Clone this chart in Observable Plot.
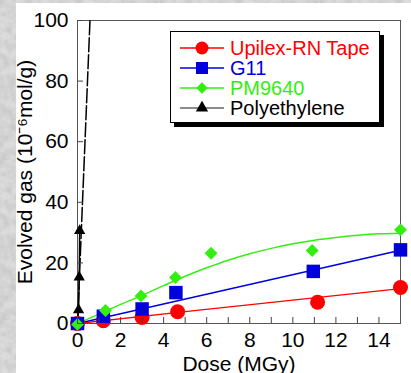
<!DOCTYPE html>
<html>
<head>
<meta charset="utf-8">
<script src="https://cdn.jsdelivr.net/npm/d3@7"></script>
<script src="https://cdn.jsdelivr.net/npm/@observablehq/plot@0.6"></script>
<style>
  html, body { margin: 0; padding: 0; }
  body {
    width: 411px; height: 373px; overflow: hidden; position: relative;
    background-color: #dcdcdc;
    background-image: url("data:image/svg+xml;utf8,<svg xmlns='http://www.w3.org/2000/svg' width='160' height='160'><filter id='n'><feTurbulence type='fractalNoise' baseFrequency='0.12' numOctaves='3' seed='4'/><feColorMatrix values='0 0 0 0 0.45  0 0 0 0 0.45  0 0 0 0 0.45  0.9 0 0 0 -0.25'/></filter><rect width='100%' height='100%' filter='url(%23n)'/></svg>");
    font-family: "Liberation Sans", Arial, sans-serif;
  }
  #paper { position: absolute; left: 16px; top: 3px; right: 0; bottom: 0; background: #fff; }
  #chart { position: absolute; left: 0; top: 0; }
  #legend {
    position: absolute; left: 170px; top: 31px; width: 210px; height: 92px;
    border: 1.5px solid #000; box-shadow: 4px 4px 0 #000; background: #fff;
    font-size: 20px; box-sizing: border-box; padding-top: 6px;
  }
  .row { height: 20px; display: flex; align-items: center; }
  .row svg { flex: none; }
  .row span { margin-left: 6px; line-height: 20px; white-space: nowrap; }
</style>
</head>
<body>
<div id="paper"></div>
<div id="chart"></div>
<div id="legend"></div>
<script>
// ---- data ----
const seriesNames = ["Upilex-RN Tape", "G11", "PM9640", "Polyethylene"];
const seriesColors = ["#ff0000", "#0000dd", "#33ee11", "#000000"];
const seriesSymbols = ["circle", "square", "diamond2", "triangle"];

const upilexDose = [0, 1.2, 3, 4.65, 11.15, 15];
const upilexGas  = [0, 0.9, 2, 3.9, 7, 11.9];
const g11Dose = [0, 1.2, 3, 4.57, 10.95, 15];
const g11Gas  = [0, 2.4, 4.8, 10.2, 17.2, 24.3];
const pmDose = [0, 1.3, 2.95, 4.55, 6.2, 10.9, 15];
const pmGas  = [-0.3, 4.3, 9.1, 15.2, 23.2, 24.1, 30.9];
const peDose = [0.05, 0.08, 0.1];
const peGas  = [4.5, 15.3, 30.6];

// fitted curves as drawn in the reference
const upilexFitDose = [0, 5, 10, 15];
const upilexFitGas  = [0, 3.9, 7.7, 11.5];
const g11FitDose = [0, 15];
const g11FitGas  = [0, 24.2];
const pmFitDose = [0, 1, 2, 3, 4, 5, 6, 7, 8, 9, 10, 11, 12, 13, 14, 15];
const pmFitGas  = [0, 3.1, 6.3, 9.3, 12.5, 15.6, 18.4, 20.9, 23.0, 24.8, 26.3, 27.5, 28.4, 29.1, 29.6, 29.8];
const peFitDose = [0, 0.58];
const peFitGas  = [0, 100];

const xTicks = [0,1,2,3,4,5,6,7,8,9,10,11,12,13,14];
const yTicks = [0, 20, 40, 60, 80, 100];

const pts = (xs, ys) => xs.map((x, i) => ({x, y: ys[i]}));

const series = [
  {fit: pts(upilexFitDose, upilexFitGas), data: pts(upilexDose, upilexGas), r: 7.5, fitW: 1.3},
  {fit: pts(g11FitDose, g11FitGas), data: pts(g11Dose, g11Gas), r: 7.6, fitW: 1.5},
  {fit: pts(pmFitDose, pmFitGas), data: pts(pmDose, pmGas), r: 5.8, fitW: 1.5},
  {fit: pts(peFitDose, peFitGas), data: pts(peDose, peGas), r: 4.2, fitW: 1.5}
];

const marks = [
  Plot.frame({stroke: "#555", strokeWidth: 1})
];
// polyethylene solid connecting line + dashed fit
marks.push(Plot.line([{x: 0, y: 0}, ...series[3].data], {x: "x", y: "y", stroke: "#000", strokeWidth: 1.5}));
marks.push(Plot.line(series[3].fit, {x: "x", y: "y", stroke: "#000", strokeWidth: 1.5, strokeDasharray: "14,3", clip: "frame"}));
[0, 1, 2].forEach(i => {
  marks.push(Plot.line(series[i].fit, {x: "x", y: "y", stroke: seriesColors[i], strokeWidth: series[i].fitW, curve: i === 2 ? "monotone-x" : "linear"}));
});
[3, 0, 1, 2].forEach(i => {
  marks.push(Plot.dot(series[i].data, {x: "x", y: "y", r: series[i].r, symbol: seriesSymbols[i], fill: seriesColors[i], stroke: "none"}));
});

marks.push(Plot.axisX({
  ticks: xTicks, tickSize: -6, tickPadding: 15,
  tickFormat: d => (d % 2 === 0 ? String(d) : ""),
  label: "Dose (MGy)", labelAnchor: "center", labelArrow: "none", labelOffset: 47,
  stroke: "#444"
}));
marks.push(Plot.axisY({
  ticks: yTicks, tickSize: -6, tickPadding: 15,
  label: "Evolved gas (10⁻⁶mol/g)", labelAnchor: "center", labelArrow: "none", labelOffset: 60,
  stroke: "#444"
}));

const chart = Plot.plot({
  width: 411, height: 373,
  marginLeft: 77, marginRight: 11, marginTop: 20, marginBottom: 50,
  style: {fontFamily: "'Liberation Sans', Arial, sans-serif", fontSize: "21px", background: "transparent", color: "#000", overflow: "visible"},
  x: {domain: [0, 15]},
  y: {domain: [0, 100]},
  marks
});
document.getElementById("chart").appendChild(chart);

// legend
const legend = d3.select("#legend");
seriesNames.forEach((name, i) => {
  const row = legend.append("div").attr("class", "row");
  const svg = row.append("svg").attr("width", 53).attr("height", 20);
  svg.append("line").attr("x1", 9).attr("x2", 53).attr("y1", 10).attr("y2", 10)
    .attr("stroke", i === 3 ? "#666" : seriesColors[i]).attr("stroke-width", 1.3);
  const sym = {circle: d3.symbolCircle, square: d3.symbolSquare, diamond2: d3.symbolDiamond2, triangle: d3.symbolTriangle}[seriesSymbols[i]];
  const r = [6.5, 6.8, 5.2, 4.6][i];
  svg.append("path").attr("transform", "translate(31,10)")
    .attr("d", d3.symbol(sym, r * r * Math.PI)()).attr("fill", seriesColors[i]);
  row.append("span").style("color", seriesColors[i]).text(name);
});
</script>
</body>
</html>
